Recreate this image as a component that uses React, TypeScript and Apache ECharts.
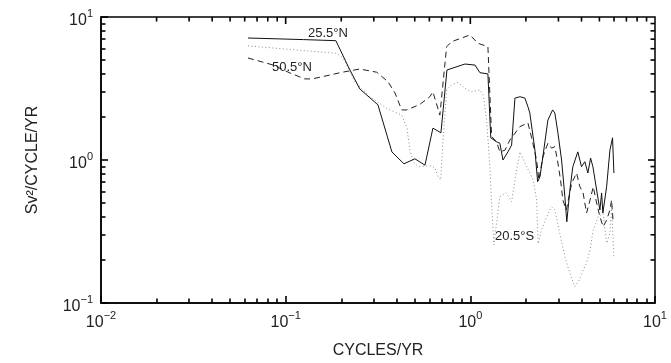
import React, { useEffect, useRef } from "react";
import * as echarts from "echarts";

// 25.5°N (solid)
const solidFreq = [0.0625, 0.125, 0.187, 0.22, 0.252, 0.316, 0.376, 0.437, 0.501, 0.568, 0.627, 0.693, 0.747, 0.935, 1.06, 1.127, 1.245, 1.29, 1.387, 1.445, 1.502, 1.598, 1.673, 1.744, 1.856, 1.975, 2.05, 2.1, 2.238, 2.314, 2.382, 2.47, 2.63, 2.79, 2.87, 2.98, 3.12, 3.25, 3.33, 3.46, 3.59, 3.82, 4.0, 4.17, 4.33, 4.48, 4.61, 4.83, 5.03, 5.14, 5.22, 5.47, 5.7, 5.89, 5.99];
const solidPower = [7.13, 6.95, 6.83, 4.4, 3.14, 2.43, 1.14, 0.94, 1.02, 0.92, 1.67, 1.55, 4.26, 4.69, 4.61, 4.08, 4.0, 1.43, 1.34, 1.31, 1.0, 1.14, 1.27, 2.71, 2.77, 2.71, 2.36, 2.13, 1.17, 0.705, 0.764, 1.05, 1.9, 2.24, 2.13, 1.55, 1.0, 0.554, 0.37, 0.617, 0.898, 1.14, 0.898, 0.973, 0.811, 1.03, 0.898, 0.617, 0.447, 0.588, 0.426, 0.65, 1.17, 1.43, 0.811];

// 50.5°N (dashed)
const dashedFreq = [0.0625, 0.0853, 0.1055, 0.127, 0.139, 0.174, 0.197, 0.252, 0.311, 0.358, 0.391, 0.425, 0.454, 0.533, 0.604, 0.627, 0.684, 0.744, 0.792, 0.995, 1.099, 1.245, 1.304, 1.387, 1.445, 1.539, 1.638, 1.856, 2.05, 2.147, 2.285, 2.35, 2.47, 2.63, 2.755, 2.87, 2.98, 3.08, 3.17, 3.31, 3.54, 3.76, 3.92, 4.08, 4.26, 4.45, 4.63, 4.83, 5.03, 5.24, 5.47, 5.7, 5.82, 5.94];
const dashedPower = [5.17, 4.62, 4.06, 3.69, 3.69, 3.93, 4.08, 4.33, 4.11, 3.53, 2.94, 2.24, 2.24, 2.45, 2.77, 3.0, 2.06, 6.2, 6.72, 7.49, 6.55, 6.2, 1.46, 1.34, 1.14, 1.17, 1.38, 1.71, 1.82, 1.43, 1.0, 0.725, 1.05, 1.31, 1.21, 1.24, 0.953, 0.725, 0.525, 0.447, 0.69, 0.811, 0.65, 0.588, 0.426, 0.525, 0.65, 0.5, 0.401, 0.342, 0.38, 0.447, 0.525, 0.363];

// 20.5°S (dotted)
const dottedFreq = [0.0625, 0.189, 0.205, 0.237, 0.286, 0.352, 0.425, 0.454, 0.471, 0.491, 0.522, 0.617, 0.643, 0.67, 0.691, 0.714, 0.744, 0.792, 0.86, 0.935, 1.016, 1.127, 1.175, 1.225, 1.276, 1.3, 1.342, 1.445, 1.559, 1.673, 1.744, 1.856, 2.018, 2.19, 2.285, 2.33, 2.43, 2.59, 2.755, 2.87, 3.05, 3.25, 3.46, 3.68, 3.89, 4.08, 4.26, 4.45, 4.63, 4.93, 5.24, 5.47, 5.7, 5.82, 5.99];
const dottedPower = [6.28, 5.57, 5.15, 3.53, 2.77, 2.3, 2.06, 1.67, 1.17, 0.969, 0.898, 0.913, 0.879, 0.764, 0.725, 1.46, 3.09, 3.35, 3.49, 3.17, 3.0, 3.09, 2.85, 1.9, 0.898, 0.525, 0.255, 0.554, 0.59, 0.511, 0.725, 1.14, 0.898, 0.725, 0.525, 0.26, 0.324, 0.401, 0.471, 0.447, 0.307, 0.211, 0.161, 0.13, 0.145, 0.17, 0.19, 0.235, 0.324, 0.401, 0.424, 0.262, 0.307, 0.471, 0.211];

const xTickExponents = [-2, -1, 0, 1];
const yTickExponents = [-1, 0, 1];
const xMajorTicks = [0.1, 1];
const yMajorTicks = [1];
const xMinorTicks = [0.02, 0.03, 0.04, 0.05, 0.06, 0.07, 0.08, 0.09, 0.2, 0.3, 0.4, 0.5, 0.6, 0.7, 0.8, 0.9, 2, 3, 4, 5, 6, 7, 8, 9];
const yMinorTicks = [0.2, 0.3, 0.4, 0.5, 0.6, 0.7, 0.8, 0.9, 2, 3, 4, 5, 6, 7, 8, 9];
const seriesNames = ["25.5°N", "50.5°N", "20.5°S"];

const FONT = "'Liberation Sans', Arial, Helvetica, sans-serif";
const MAJOR = 7;
const MINOR = 4.5;

const zip = (xs: number[], ys: number[]) => xs.map((x, i) => [x, ys[i]]);

const expLabel = (exps: number[]) => (v: number) => {
  const e = Math.round(Math.log10(v));
  if (!exps.includes(e)) return "";
  return `{b|10}{s|${e < 0 ? "\u2212" + -e : e}}`;
};

const rich = {
  b: { fontSize: 16, fontFamily: FONT, color: "#222", verticalAlign: "bottom" },
  s: { fontSize: 11, fontFamily: FONT, color: "#222", verticalAlign: "bottom", padding: [0, 0, 9, 0] },
};

export default function App() {
  const ref = useRef<HTMLDivElement>(null);
  useEffect(() => {
    document.body.style.margin = "0";
    const chart = echarts.init(ref.current!, null, { renderer: "svg" });
    const topTicks = [...xMajorTicks.map((v) => [v, MAJOR]), ...xMinorTicks.map((v) => [v, MINOR])];
    const rightTicks = [...yMajorTicks.map((v) => [MAJOR, v]), ...yMinorTicks.map((v) => [MINOR, v])];
    chart.setOption({
      animation: false,
      textStyle: { fontFamily: FONT },
      grid: { left: 101, right: 16, top: 17, bottom: 60, show: true, borderColor: "#000", borderWidth: 1.5 },
      xAxis: {
        type: "log",
        min: 0.01,
        max: 10,
        name: "CYCLES/YR",
        nameLocation: "middle",
        nameGap: 38,
        nameTextStyle: { fontSize: 16, color: "#222", fontFamily: FONT },
        axisLine: { show: true, lineStyle: { color: "#000", width: 1.5 } },
        axisTick: { show: true, inside: true, length: MAJOR, lineStyle: { color: "#000", width: 1.6 } },
        minorTick: { show: true, splitNumber: 9, length: MINOR, lineStyle: { color: "#000", width: 1.6 } },
        splitLine: { show: false },
        axisLabel: { show: true, margin: 6, formatter: expLabel(xTickExponents), rich },
      },
      yAxis: {
        type: "log",
        min: 0.1,
        max: 10,
        name: "Sv\u00b2/CYCLE/YR",
        nameLocation: "middle",
        nameGap: 62,
        nameRotate: 90,
        nameTextStyle: { fontSize: 16, color: "#222", fontFamily: FONT },
        axisLine: { show: true, lineStyle: { color: "#000", width: 1.5 } },
        axisTick: { show: true, inside: true, length: MAJOR, lineStyle: { color: "#000", width: 1.6 } },
        minorTick: { show: true, splitNumber: 9, length: MINOR, lineStyle: { color: "#000", width: 1.6 } },
        splitLine: { show: false },
        axisLabel: { show: true, margin: 8, formatter: expLabel(yTickExponents), rich },
      },
      series: [
        {
          name: seriesNames[2],
          type: "line",
          data: zip(dottedFreq, dottedPower),
          showSymbol: false,
          lineStyle: { color: "#8a8a8a", width: 1, type: [1, 2.5] },
          z: 1,
        },
        {
          name: seriesNames[1],
          type: "line",
          data: zip(dashedFreq, dashedPower),
          showSymbol: false,
          lineStyle: { color: "#222", width: 1, type: [6, 4] },
          z: 2,
        },
        {
          name: seriesNames[0],
          type: "line",
          data: zip(solidFreq, solidPower),
          showSymbol: false,
          lineStyle: { color: "#111", width: 1 },
          z: 3,
        },
        {
          type: "custom",
          data: topTicks,
          encode: { x: 0, y: 1 },
          renderItem: (params: any, api: any) => {
            const cs = params.coordSys;
            const px = api.coord([api.value(0), 1])[0];
            return { type: "line", shape: { x1: px, y1: cs.y, x2: px, y2: cs.y + api.value(1) }, style: { stroke: "#000", lineWidth: 1.6 } };
          },
        },
        {
          type: "custom",
          data: rightTicks,
          encode: { x: 0, y: 1 },
          renderItem: (params: any, api: any) => {
            const cs = params.coordSys;
            const py = api.coord([1, api.value(1)])[1];
            const right = cs.x + cs.width;
            return { type: "line", shape: { x1: right, y1: py, x2: right - api.value(0), y2: py }, style: { stroke: "#000", lineWidth: 1.6 } };
          },
        },
      ],
      graphic: [
        { type: "text", left: 308, top: 26, style: { text: seriesNames[0], fontSize: 13, fontFamily: FONT, fill: "#222" } },
        { type: "text", left: 272, top: 60, style: { text: seriesNames[1], fontSize: 13, fontFamily: FONT, fill: "#222" } },
        { type: "text", left: 495, top: 229, style: { text: seriesNames[2], fontSize: 13, fontFamily: FONT, fill: "#222" } },
      ],
    });
    return () => chart.dispose();
  }, []);
  return <div ref={ref} style={{ width: 671, height: 363, position: "fixed", left: 0, top: 0 }} />;
}
